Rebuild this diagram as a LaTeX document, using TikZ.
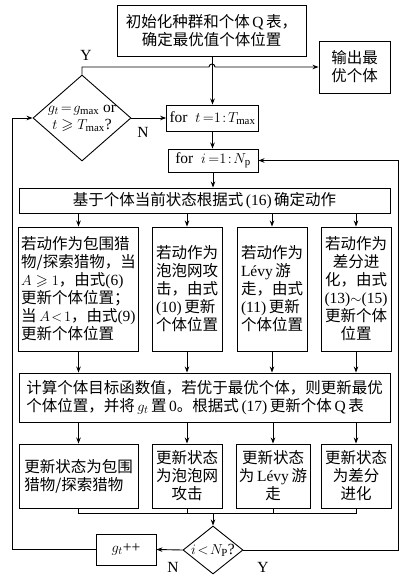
\documentclass[tikz,border=0pt]{standalone}
\usepackage{amssymb}
\usepackage{fontspec}
\setmainfont{Liberation Serif}
\newfontfamily\cjk{Noto Sans CJK SC}
\newcommand\lt[1]{{\rmfamily #1}}
\usetikzlibrary{shapes.geometric,arrows.meta}
\begin{document}
\begin{tikzpicture}[x=1pt,y=-1pt,
  every path/.style={line width=0.9pt},
  bx/.style={draw, line width=0.9pt, inner xsep=3pt, inner ysep=0pt, font=\cjk\fontsize{15.5}{18}\selectfont},
  dm/.style={draw, diamond, line width=0.9pt, inner sep=0pt},
  arr/.style={-{Stealth[length=6pt,width=4.5pt]}},
  lbl/.style={font=\rmfamily\fontsize{15.5}{18}\selectfont, inner sep=0pt}]
\useasboundingbox (0,0) rectangle (419,578);
% nodes
\node[bx, minimum width=189, minimum height=51, align=center] (init) at (211.5,30.5)
  {初始化种群和个体\,\lt{Q}\,表，\\确定最优值个体位置};
\node[bx, minimum width=71, minimum height=52, align=left] (out) at (354.5,67)
  {输出最\\优个体};
\node[dm, minimum width=98, minimum height=86] (d1) at (82,118) {};
\node[lbl, align=center] at (d1) {$g_t\!=\!g_{\max}$ or\\[-1pt]$t\geqslant T_{\max}$?};
\node[bx, minimum width=91, minimum height=26, font=\rmfamily\fontsize{15.5}{18}\selectfont] (fort) at (212.5,118)
  {for\ \ $t\,{=}1\!:\!T_{\max}$};
\node[bx, minimum width=90, minimum height=23, font=\rmfamily\fontsize{15.5}{18}\selectfont] (fori) at (213,160.5)
  {for\ \ $i\,{=}1\!:\!N_{\mathrm{p}}$};
\node[bx, minimum width=371, minimum height=25] (act) at (204.5,200.5)
  {基于个体当前状态根据式\,\lt{(16)}\,确定动作};
\node[bx, minimum width=119, minimum height=124, align=left] (b1) at (78.5,289)
  {若动作为包围猎\\物/探索猎物，当\\$A\geqslant 1$，由式\lt{(6)}\\更新个体位置；\\当\,$A\!<\!1$，由式\lt{(9)}\\更新个体位置};
\node[bx, minimum width=70, minimum height=124, align=left] (b2) at (187,289)
  {若动作为\\泡泡网攻\\击，由式\\\lt{(10)}\,更新\\个体位置};
\node[bx, minimum width=70, minimum height=124, align=left] (b3) at (272,289)
  {若动作为\\\lt{Lévy}\,游\\走，由式\\\lt{(11)}\,更新\\个体位置};
\node[bx, minimum width=70, minimum height=124, align=center] (b4) at (356,289)
  {若动作为\\差分进\\化，由式\\\lt{(13)$\sim$(15)}\\更新个体\\位置};
\node[bx, minimum width=371, minimum height=49, align=left] (comp) at (204.5,397.5)
  {计算个体目标函数值，若优于最优个体，则更新最优\\个体位置，并将\,$g_t$\,置\,\lt{0}。根据式\,\lt{(17)}\,更新个体\,\lt{Q}\,表};
\node[bx, minimum width=119, minimum height=64, align=left] (u1) at (78.5,476)
  {更新状态为包围\\猎物/探索猎物};
\node[bx, minimum width=70, minimum height=64, align=center] (u2) at (187,476)
  {更新状态\\为泡泡网\\攻击};
\node[bx, minimum width=74, minimum height=64, align=center] (u3) at (273,476)
  {更新状态\\为\,\lt{Lévy}\,游\\走};
\node[bx, minimum width=70, minimum height=64, align=center] (u4) at (356,476)
  {更新状态\\为差分\\进化};
\node[dm, minimum width=60, minimum height=48] (d2) at (213,550) {};
\node[lbl] at (d2) {$i\!<\!N_{\mathrm{P}}$?};
\node[bx, minimum width=60, minimum height=31, font=\rmfamily\fontsize{15.5}{18}\selectfont] (gt) at (126,549.5)
  {$g_t$++};
% labels
\node[lbl] at (86,55) {Y};
\node[lbl] at (143,132) {N};
\node[lbl] at (173,567) {N};
\node[lbl] at (263,567) {Y};
% coordinates
\coordinate (L) at (12,0);
\coordinate (R) at (398,0);
\coordinate (m) at (213,513);
% connectors
\draw[arr] (init.south -| fort.north) -- (fort.north);
\draw[arr] (d1.north) |- (209,67) arc[start angle=180, end angle=360, radius=3] -- (out.west);
\draw[arr] (d1.east) -- (fort.west);
\draw[arr] (fort.south) -- (fort.south |- fori.north);
\draw[arr] (fori.south) -- (fori.south |- act.north);
\foreach \b in {b1,b2,b3,b4} {\draw[arr] (\b.north |- act.south) -- (\b.north);}
\foreach \b in {b1,b2,b3,b4} {\draw[arr] (\b.south) -- (\b.south |- comp.north);}
\foreach \b in {u1,u2,u3,u4} {\draw[arr] (\b.north |- comp.south) -- (\b.north);}
\draw (u1.south) |- (u4.south |- m) -- (u4.south);
\draw (u2.south) -- (u2.south |- m);
\draw (u3.south) -- (u3.south |- m);
\draw[arr] (m) -- (d2.north);
\draw[arr] (d2.west) -- (gt.east);
\draw[arr] (gt.west) -- (gt.west -| L) |- (d1.west);
\draw[arr] (d2.east) -- (d2.east -| R) |- (fori.east);
\end{tikzpicture}
\end{document}
